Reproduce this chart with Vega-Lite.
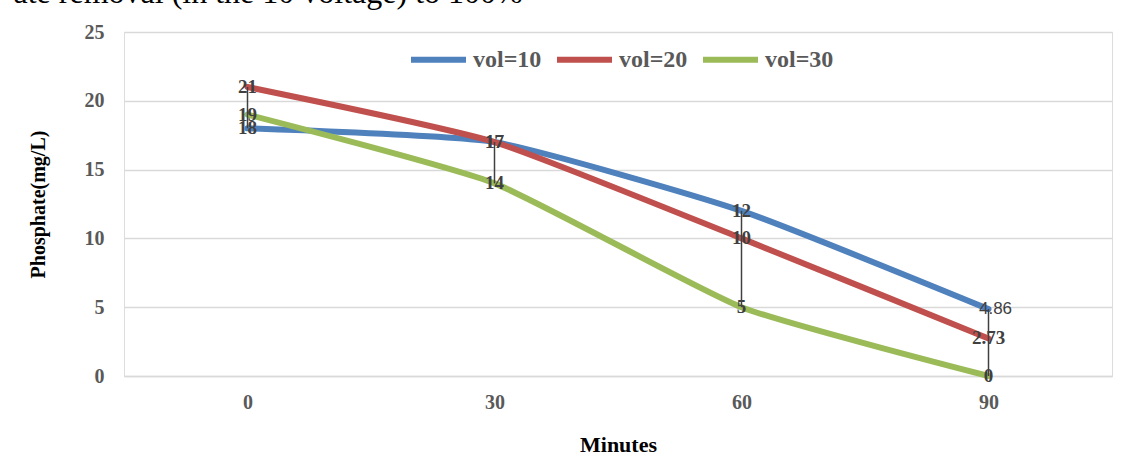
{
  "$schema": "https://vega.github.io/schema/vega-lite/v6.json",
  "autosize": "none",
  "width": 988,
  "height": 344,
  "padding": {"left": 124, "top": 32, "right": 10, "bottom": 81},
  "background": "white",
  "data": {
    "values": [
      {"min": 0, "series": "vol=10", "value": 18, "font": "serif"},
      {"min": 30, "series": "vol=10", "value": 17, "font": "serif"},
      {"min": 60, "series": "vol=10", "value": 12, "font": "serif"},
      {"min": 90, "series": "vol=10", "value": 4.86, "font": "sans"},
      {"min": 0, "series": "vol=20", "value": 21, "font": "serif"},
      {"min": 30, "series": "vol=20", "value": 17, "font": "serif"},
      {"min": 60, "series": "vol=20", "value": 10, "font": "serif"},
      {"min": 90, "series": "vol=20", "value": 2.73, "font": "serif"},
      {"min": 0, "series": "vol=30", "value": 19, "font": "serif"},
      {"min": 30, "series": "vol=30", "value": 14, "font": "serif"},
      {"min": 60, "series": "vol=30", "value": 5, "font": "serif"},
      {"min": 90, "series": "vol=30", "value": 0, "font": "serif"}
    ]
  },
  "resolve": {"axis": {"x": "independent"}},
  "layer": [
    {
      "mark": {"type": "line", "strokeWidth": 6, "interpolate": "cardinal", "tension": 0.5, "strokeCap": "round"},
      "encoding": {
        "x": {
          "field": "min",
          "type": "ordinal",
          "scale": {"type": "point", "padding": 0.5},
          "axis": {
            "orient": "bottom",
            "title": "Minutes",
            "titleFont": "Liberation Serif",
            "titleFontSize": 22,
            "titleFontWeight": "bold",
            "titleColor": "black",
            "titlePadding": 22,
            "labelAngle": 0,
            "labelFont": "Liberation Serif",
            "labelFontSize": 20,
            "labelFontWeight": "bold",
            "labelColor": "#595959",
            "labelPadding": 16,
            "ticks": false,
            "domainColor": "#d9d9d9",
            "domainWidth": 1.5,
            "grid": false
          }
        },
        "y": {
          "field": "value",
          "type": "quantitative",
          "scale": {"domain": [0, 25], "nice": false},
          "axis": {
            "title": "Phosphate(mg/L)",
            "titleFont": "Liberation Serif",
            "titleFontSize": 20,
            "titleFontWeight": "bold",
            "titleColor": "black",
            "titlePadding": 36,
            "values": [0, 5, 10, 15, 20, 25],
            "labelFont": "Liberation Serif",
            "labelFontSize": 20,
            "labelFontWeight": "bold",
            "labelColor": "#595959",
            "labelPadding": 20,
            "ticks": false,
            "domain": false,
            "gridColor": "#d9d9d9",
            "gridWidth": 1.5
          }
        },
        "color": {
          "field": "series",
          "type": "nominal",
          "scale": {"domain": ["vol=10", "vol=20", "vol=30"], "range": ["#4F81BD", "#C0504D", "#9BBB59"]},
          "legend": {
            "title": null,
            "orient": "none",
            "direction": "horizontal",
            "legendX": 284,
            "legendY": -3,
            "symbolType": "stroke",
            "symbolStrokeWidth": 6,
            "symbolSize": 3025,
            "labelFont": "Liberation Serif",
            "labelFontSize": 24,
            "labelFontWeight": "bold",
            "labelColor": "#595959",
            "labelOffset": 4,
            "columnPadding": 3
          }
        }
      }
    },
    {
      "mark": {"type": "rule", "color": "#404040", "strokeWidth": 1.5},
      "encoding": {
        "x": {
          "field": "min",
          "type": "ordinal",
          "axis": {
            "orient": "top",
            "title": "ate removal (in the 10 voltage) to 100%",
            "titleFont": "Liberation Serif",
            "titleFontSize": 32,
            "titleFontWeight": "normal",
            "titleColor": "black",
            "titleAnchor": "start",
            "titleAlign": "left",
            "titleBaseline": "alphabetic",
            "titleX": -111,
            "titleY": -30,
            "labels": false,
            "ticks": false,
            "domain": false,
            "grid": false
          }
        },
        "y": {"aggregate": "min", "field": "value", "type": "quantitative"},
        "y2": {"aggregate": "max", "field": "value"}
      }
    },
    {
      "transform": [{"filter": "datum.font === 'serif'"}],
      "mark": {"type": "text", "font": "Liberation Serif", "fontSize": 19, "fontWeight": "bold", "color": "#404040", "baseline": "middle", "align": "center"},
      "encoding": {
        "x": {"field": "min", "type": "ordinal", "axis": null},
        "y": {"field": "value", "type": "quantitative"},
        "text": {"field": "value", "type": "quantitative"}
      }
    },
    {
      "transform": [{"filter": "datum.font === 'sans'"}],
      "mark": {"type": "text", "font": "Liberation Sans", "fontSize": 17, "color": "#404040", "baseline": "middle", "align": "center", "dx": 7},
      "encoding": {
        "x": {"field": "min", "type": "ordinal", "axis": null},
        "y": {"field": "value", "type": "quantitative"},
        "text": {"field": "value", "type": "quantitative"}
      }
    }
  ]
}
